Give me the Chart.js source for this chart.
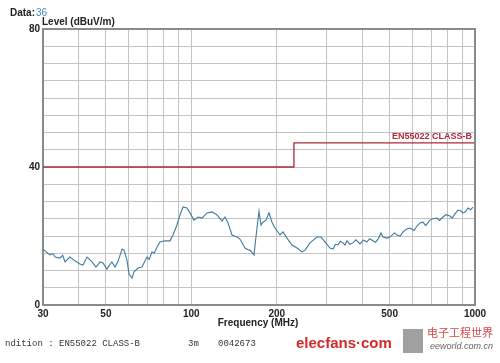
<html>
<head>
    <script src="https://cdn.jsdelivr.net/npm/chart.js@4.4.1/dist/chart.umd.min.js"></script>
    <title>EN55022 scan</title>
    <style>
        body { margin: 0; background: #fff; }
    </style>
</head>
<body>
<canvas id="scan-chart" width="500" height="363"></canvas>

<script>
    // measured trace (MHz, dBuV/m)
    var traceFreq = [30.0, 31.0, 31.8, 32.5, 33.1, 34.4, 35.2, 35.9, 36.6, 37.3, 38.9, 40.5, 41.5, 42.9, 44.7,
        46.1, 47.7, 48.8, 50.4, 51.5, 52.5, 53.8, 55.1, 57.0, 57.9, 59.3, 60.3, 61.8, 62.8, 64.9, 67.0, 68.5,
        69.8, 71.0, 72.7, 74.0, 75.7, 77.5, 80.8, 84.1, 86.2, 89.0, 91.2, 93.5, 96.5, 98.9, 102.2, 105.6,
        109.1, 113.6, 118.3, 123.2, 128.3, 131.4, 134.7, 139.1, 144.9, 148.4, 154.6, 159.7, 161.0, 166.3,
        169.0, 173.2, 176.0, 178.9, 183.3, 187.8, 192.5, 197.2, 205.4, 210.5, 217.4, 226.4, 235.8, 245.6,
        251.6, 262.0, 277.4, 286.5, 296.0, 308.2, 315.8, 322, 328.9, 335, 342.5, 348, 353.8, 362, 371.5,
        380, 393.2, 404, 416.2, 425, 437.0, 446, 455.1, 466.3, 473.9, 488, 501.6, 520, 530.9, 545, 557.4,
        575, 590.0, 610, 624.5, 640, 655.7, 670, 694.1, 710, 734.6, 750, 771.3, 790, 816.4, 830, 850.2,
        871.2, 890, 907.3, 925, 944.7, 965, 984.0];
    var traceLevel = [16.2, 15.2, 14.5, 14.9, 13.9, 13.6, 14.4, 12.5, 13.2, 13.9, 12.8, 11.9, 11.6, 13.9, 12.5,
        11.0, 12.5, 12.2, 10.4, 11.6, 12.5, 11.0, 12.5, 16.2, 15.9, 13.0, 9.0, 7.8, 9.6, 10.7, 11.0, 12.6,
        13.9, 13.2, 15.4, 15.0, 16.8, 18.3, 18.6, 18.6, 20.3, 23.2, 26.1, 28.4, 28.1, 26.7, 24.6, 25.5,
        25.2, 26.7, 27.0, 26.1, 24.3, 25.5, 23.8, 20.3, 19.7, 19.1, 16.5, 15.9, 15.9, 14.5,
        19.7, 27.2, 23.2, 24.0, 24.6, 26.7, 24.0, 22.3, 20.3, 21.2, 19.4, 17.4, 16.5, 15.4,
        15.9, 18.0, 19.7, 19.7, 18.3, 16.5, 16.2, 17.6, 17.4, 18.5, 18.0, 17.4, 18.6, 17.6, 18.0,
        18.9, 17.7, 18.8, 18.3, 19.2, 18.6, 18.2, 19.1, 20.9, 19.7, 19.4, 19.7, 20.9, 20.3, 20.0, 21.2,
        22.0, 22.3, 21.6, 22.9, 23.8, 24.0, 23.0, 24.6, 25.0, 25.2, 24.5, 25.5, 26.2, 25.8, 25.2, 26.4,
        27.5, 27.3, 26.7, 27.0, 28.1, 27.6, 28.4];

    // EN55022 class B limit
    var limitFreq = [30, 230, 230, 1000];
    var limitLevel = [40, 40, 47, 47];

    var xGridValues = [30, 40, 50, 60, 70, 80, 90, 100, 200, 300, 400, 500, 600, 700, 800, 900, 1000];
    var xTickLabels = [30, 50, 100, 200, 500, 1000];
    var yTickLabels = [0, 40, 80];

    var tickFont = { family: 'Liberation Sans', size: 10, weight: 'bold' };

    function toPoints(xs, ys) {
        var pts = [];
        xs.forEach((x, i) => pts.push({ x: x, y: ys[i] }));
        return pts;
    }

    // titles, frame and footer text
    var decorations = {
        id: 'decorations',
        afterDraw: chart => {
            var c = chart.ctx;
            var a = chart.chartArea;
            c.save();
            c.strokeStyle = '#8a8a8a';
            c.lineWidth = 2;
            c.beginPath();
            c.moveTo(a.left, a.top);
            c.lineTo(a.right, a.top);
            c.lineTo(a.right, a.bottom);
            c.stroke();

            c.textBaseline = 'middle';
            c.font = 'bold 10px "Liberation Sans"';
            c.fillStyle = '#222';
            c.fillText('Data:', 10, 13);
            c.fillStyle = '#3d8ac4';
            c.font = '10px "Liberation Sans"';
            c.fillText('36', 36, 13);
            c.fillStyle = '#222';
            c.font = 'bold 10px "Liberation Sans"';
            c.fillText('Level (dBuV/m)', 42, 22);
            c.textAlign = 'center';
            c.fillText('Frequency (MHz)', 258, 323);

            // limit label
            c.textAlign = 'right';
            c.fillStyle = '#b0283a';
            c.font = 'bold 9px "Liberation Sans"';
            c.fillText('EN55022 CLASS-B', 472, 137);

            // footer
            c.textAlign = 'left';
            c.fillStyle = '#333';
            c.font = '9px "Liberation Mono"';
            c.fillText('ndition : EN55022 CLASS-B', 5, 344);
            c.fillText('3m', 188, 344);
            c.fillText('0042673', 218, 344);

            c.fillStyle = '#d42a2a';
            c.font = 'bold 15px "Liberation Sans"';
            c.fillText('elecfans\u00b7com', 296, 344);

            c.fillStyle = '#a0a0a0';
            c.fillRect(403, 329, 20, 24);
            c.fillStyle = '#d84a4a';
            c.font = '11px "Noto Sans CJK SC"';
            c.fillText('电子工程世界', 427, 333);
            c.fillStyle = '#666';
            c.font = 'italic 9px "Liberation Sans"';
            c.fillText('eeworld.com.cn', 430, 346);
            c.restore();
        }
    };

    var scanChart = new Chart(document.getElementById('scan-chart'), {
        type: 'scatter',
        data: {
            datasets: [{
                data: toPoints(limitFreq, limitLevel),
                showLine: true,
                borderColor: '#b0283a',
                borderWidth: 1.3,
                pointRadius: 0
            }, {
                data: toPoints(traceFreq, traceLevel),
                showLine: true,
                borderColor: '#3f7a9e',
                borderWidth: 1.1,
                pointRadius: 0
            }]
        },
        options: {
            responsive: false,
            animation: false,
            layout: { padding: { left: 0, right: 25, top: 29, bottom: 0 } },
            plugins: {
                legend: { display: false },
                tooltip: { enabled: false }
            },
            scales: {
                x: {
                    type: 'logarithmic',
                    min: 30,
                    max: 1000,
                    afterBuildTicks: s => { s.ticks = xGridValues.map(v => ({ value: v })); },
                    afterFit: s => { s.height = 58; },
                    ticks: {
                        autoSkip: false,
                        maxRotation: 0,
                        padding: 3,
                        color: '#222',
                        font: tickFont,
                        callback: v => xTickLabels.includes(v) ? String(v) : ''
                    },
                    grid: { color: '#c4c4c4', drawTicks: false },
                    border: { color: '#8a8a8a', width: 2 }
                },
                y: {
                    min: 0,
                    max: 80,
                    afterFit: s => { s.width = 43; },
                    ticks: {
                        stepSize: 5,
                        autoSkip: false,
                        padding: 3,
                        color: '#222',
                        font: tickFont,
                        callback: v => yTickLabels.includes(v) ? String(v) : ''
                    },
                    grid: { color: '#c4c4c4', drawTicks: false },
                    border: { color: '#8a8a8a', width: 2 }
                }
            }
        },
        plugins: [decorations]
    });
</script>
</body>
</html>
